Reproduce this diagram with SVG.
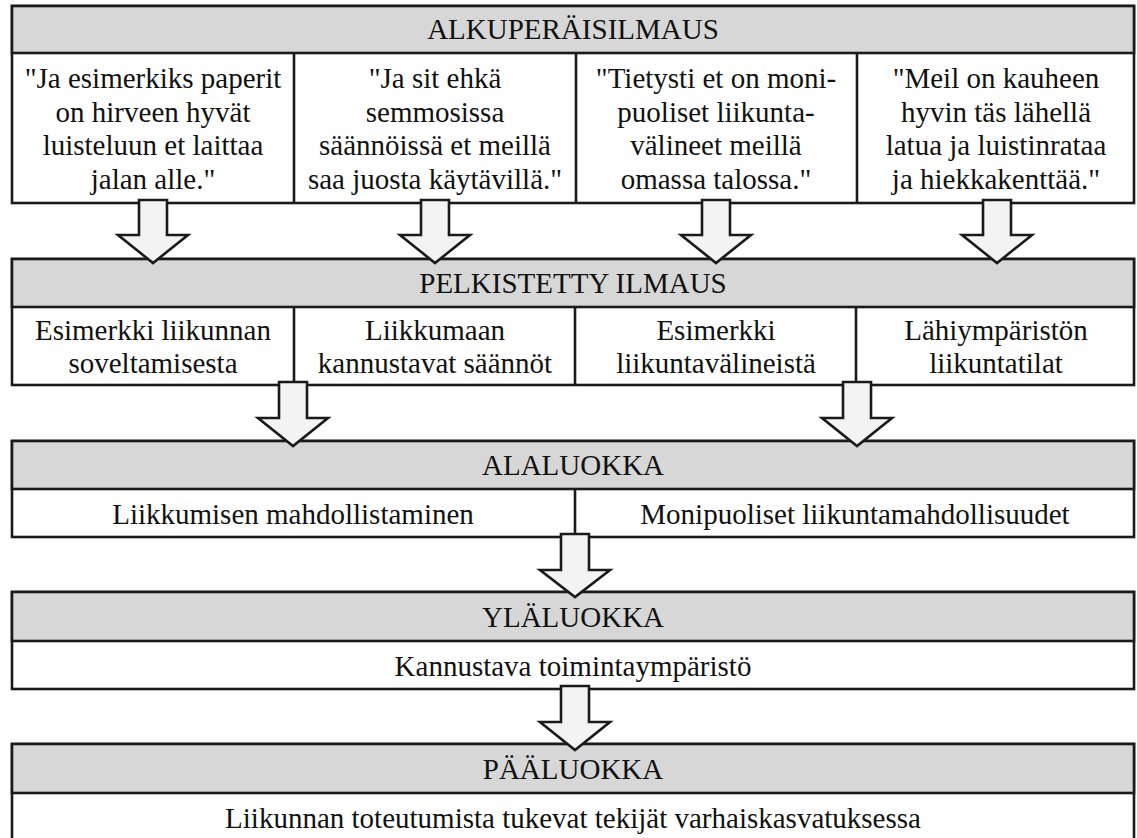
<svg xmlns="http://www.w3.org/2000/svg" width="1137" height="838" viewBox="0 0 1137 838">
<style>
.box{fill:#ffffff;stroke:#1a1a1a;stroke-width:2.6}
.hdr{fill:#d7d7d7;stroke:#1a1a1a;stroke-width:2.6}
.div{stroke:#1a1a1a;stroke-width:2.6}
.arr{fill:#f3f3f3;stroke:#1a1a1a;stroke-width:2.6;stroke-linejoin:miter}
text{font-family:"Liberation Serif","Times New Roman",serif;font-size:29px;fill:#111;text-anchor:middle}
</style>
<rect width="1137" height="838" fill="#ffffff"/>
<g id="alkuperaisilmaus">
<rect class="box" x="12" y="6" width="1122" height="197"/>
<rect class="hdr" x="12" y="6" width="1122" height="47"/>
<line class="div" x1="294" y1="53" x2="294" y2="203"/>
<line class="div" x1="576" y1="53" x2="576" y2="203"/>
<line class="div" x1="857" y1="53" x2="857" y2="203"/>
<text x="573" y="39">ALKUPERÄISILMAUS</text>
<text x="153" y="88">"Ja esimerkiks paperit</text>
<text x="153" y="122">on hirveen hyvät</text>
<text x="153" y="155">luisteluun et laittaa</text>
<text x="153" y="189">jalan alle."</text>
<text x="435" y="88">"Ja sit ehkä</text>
<text x="435" y="122">semmosissa</text>
<text x="435" y="155">säännöissä et meillä</text>
<text x="435" y="189">saa juosta käytävillä."</text>
<text x="716" y="88">"Tietysti et on moni-</text>
<text x="716" y="122">puoliset liikunta-</text>
<text x="716" y="155">välineet meillä</text>
<text x="716" y="189">omassa talossa."</text>
<text x="996" y="88">"Meil on kauheen</text>
<text x="996" y="122">hyvin täs lähellä</text>
<text x="996" y="155">latua ja luistinrataa</text>
<text x="996" y="189">ja hiekkakenttää."</text>
</g>
<g id="pelkistetty">
<rect class="box" x="12" y="259" width="1122" height="126"/>
<rect class="hdr" x="12" y="259" width="1122" height="48"/>
<line class="div" x1="294" y1="307" x2="294" y2="385"/>
<line class="div" x1="575" y1="307" x2="575" y2="385"/>
<line class="div" x1="856" y1="307" x2="856" y2="385"/>
<text x="573" y="293">PELKISTETTY ILMAUS</text>
<text x="153" y="340">Esimerkki liikunnan</text>
<text x="153" y="373">soveltamisesta</text>
<text x="435" y="340">Liikkumaan</text>
<text x="435" y="373">kannustavat säännöt</text>
<text x="716" y="340">Esimerkki</text>
<text x="716" y="373">liikuntavälineistä</text>
<text x="996" y="340">Lähiympäristön</text>
<text x="996" y="373">liikuntatilat</text>
</g>
<g id="alaluokka">
<rect class="box" x="12" y="441" width="1122" height="96"/>
<rect class="hdr" x="12" y="441" width="1122" height="48"/>
<line class="div" x1="575" y1="489" x2="575" y2="537"/>
<text x="573" y="475">ALALUOKKA</text>
<text x="293" y="524">Liikkumisen mahdollistaminen</text>
<text x="855" y="524">Monipuoliset liikuntamahdollisuudet</text>
</g>
<g id="ylaluokka">
<rect class="box" x="12" y="592" width="1122" height="97"/>
<rect class="hdr" x="12" y="592" width="1122" height="49"/>
<text x="573" y="627">YLÄLUOKKA</text>
<text x="573" y="676">Kannustava toimintaympäristö</text>
</g>
<g id="paaluokka">
<rect class="box" x="12" y="744" width="1122" height="110"/>
<rect class="hdr" x="12" y="744" width="1122" height="49"/>
<text x="573" y="779">PÄÄLUOKKA</text>
<text x="573" y="828">Liikunnan toteutumista tukevat tekijät varhaiskasvatuksessa</text>
</g>
<g id="connectors">
<polygon class="arr" points="139,200 167,200 167,235 188,235 153,263 118,235 139,235"/>
<polygon class="arr" points="421,200 449,200 449,235 470,235 435,263 400,235 421,235"/>
<polygon class="arr" points="702,200 730,200 730,235 751,235 716,263 681,235 702,235"/>
<polygon class="arr" points="983,200 1011,200 1011,235 1032,235 997,263 962,235 983,235"/>
<polygon class="arr" points="279,382 307,382 307,418 328,418 293,446 258,418 279,418"/>
<polygon class="arr" points="843,382 871,382 871,418 892,418 857,446 822,418 843,418"/>
<polygon class="arr" points="561,534 589,534 589,570 610,570 575,597 540,570 561,570"/>
<polygon class="arr" points="561,686 589,686 589,722 610,722 575,750 540,722 561,722"/>
</g>
</svg>
